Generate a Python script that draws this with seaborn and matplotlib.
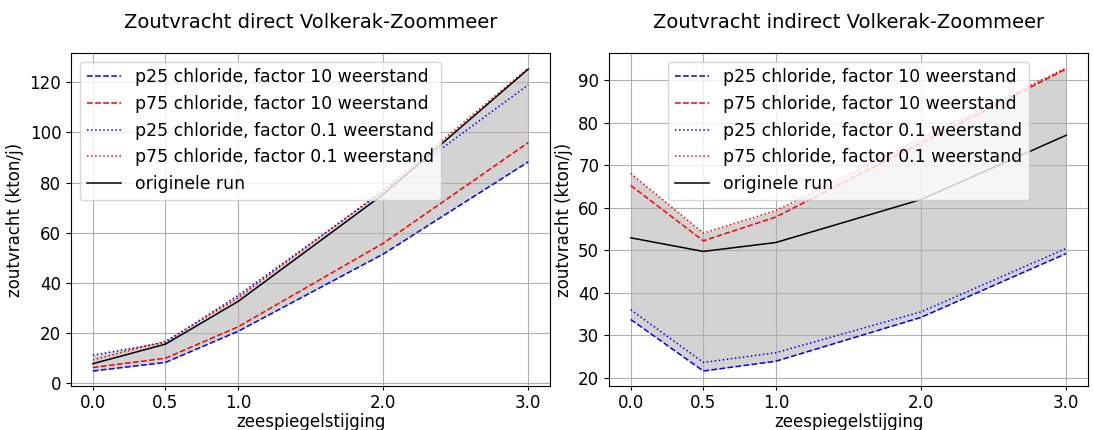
import numpy as np
import pandas as pd
import matplotlib
matplotlib.use("Agg")
import matplotlib.pyplot as plt
import seaborn as sns

zss = [0.0, 0.5, 1.0, 2.0, 3.0]
xticks = [0.0, 0.5, 1.0, 2.0, 3.0]

labels = ["p25 chloride, factor 10 weerstand",
          "p75 chloride, factor 10 weerstand",
          "p25 chloride, factor 0.1 weerstand",
          "p75 chloride, factor 0.1 weerstand",
          "originele run"]

# direct
direct_p25_f10 = [4.9, 8.3, 20.7, 51.5, 88.3]
direct_p75_f10 = [6.3, 10.0, 22.5, 55.8, 96.0]
direct_p25_f01 = [11.2, 16.3, 35.0, 76.5, 119.0]
direct_p75_f01 = [9.3, 16.8, 34.0, 77.0, 125.7]
direct_orig = [7.8, 15.6, 32.6, 75.3, 125.3]

# indirect
indirect_p25_f10 = [33.7, 21.6, 23.9, 34.2, 49.2]
indirect_p75_f10 = [65.2, 52.2, 57.8, 75.2, 92.6]
indirect_p25_f01 = [36.0, 23.6, 25.9, 35.5, 50.4]
indirect_p75_f01 = [68.0, 54.0, 59.3, 76.3, 92.8]
indirect_orig = [52.9, 49.7, 51.8, 61.9, 77.0]

colors = ["blue", "red", "blue", "red", "black"]
styles = ["--", "--", ":", ":", "-"]

fig, axes = plt.subplots(1, 2, figsize=(10.93, 4.30), dpi=100)
fig.subplots_adjust(left=0.065, right=0.9954, bottom=0.102, top=0.877, wspace=0.123)

panels = [
    ("Zoutvracht direct Volkerak-Zoommeer",
     [direct_p25_f10, direct_p75_f10, direct_p25_f01, direct_p75_f01, direct_orig],
     "upper left"),
    ("Zoutvracht indirect Volkerak-Zoommeer",
     [indirect_p25_f10, indirect_p75_f10, indirect_p25_f01, indirect_p75_f01, indirect_orig],
     "upper center"),
]

for ax, (title, series, loc) in zip(axes, panels):
    arr = np.array(series)
    ax.fill_between(zss, arr.min(axis=0), arr.max(axis=0), color="lightgrey", linewidth=0)
    for vals, lab, c, ls in zip(series, labels, colors, styles):
        sns.lineplot(x=zss, y=vals, ax=ax, color=c, linestyle=ls, linewidth=1.1, label=lab)
    ax.set_title(title, fontsize=14, pad=18)
    ax.set_xlabel("zeespiegelstijging", fontsize=12, labelpad=1)
    ax.set_ylabel("zoutvracht (kton/j)", fontsize=12)
    ax.set_xticks(xticks)
    ax.tick_params(labelsize=12)
    ax.tick_params(axis="x", pad=2.5, length=3)
    ax.grid(True)
    ax.legend(loc=loc, fontsize=12.4, framealpha=0.8)

axes[0].set_yticks([0, 20, 40, 60, 80, 100, 120])
axes[1].set_yticks([20, 30, 40, 50, 60, 70, 80, 90])

fig.savefig("out.png", dpi=100)
